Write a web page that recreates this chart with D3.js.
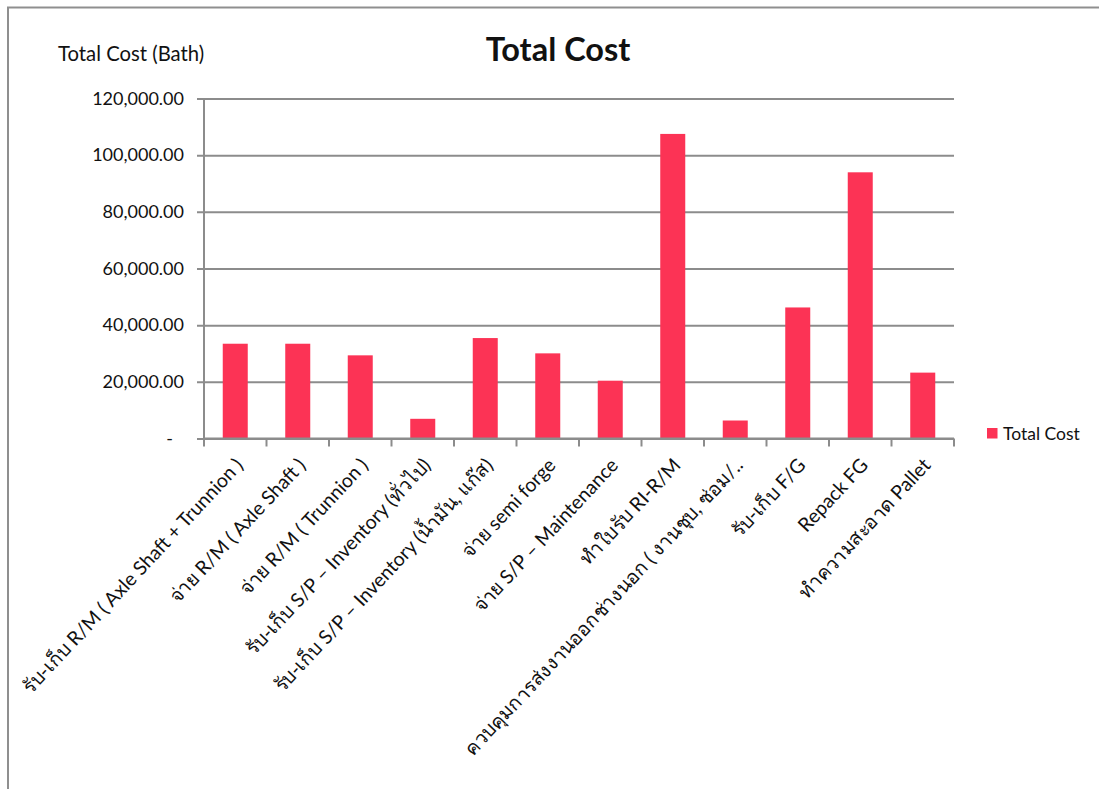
<!DOCTYPE html>
<html>
<head>
<meta charset="utf-8">
<script src="https://cdn.jsdelivr.net/npm/d3@7"></script>
<style>
  html, body { margin: 0; padding: 0; background: #ffffff; }
  svg { display: block; }
  text { font-family: Lato, "Open Sans", "Noto Sans", sans-serif; fill: #111; }
</style>
</head>
<body>
<svg id="chart" width="1099" height="789"></svg>
<script>
const categories = [
  "รับ-เก็บ R/M ( Axle Shaft + Trunnion )",
  "จ่าย R/M ( Axle Shaft )",
  "จ่าย R/M ( Trunnion )",
  "รับ-เก็บ S/P – Inventory (ทั่วไป)",
  "รับ-เก็บ S/P – Inventory (น้ำมัน, แก๊ส)",
  "จ่าย  semi forge",
  "จ่าย S/P – Maintenance",
  "ทำใบรับ  RI-R/M",
  "ควบคุมการส่งงานออกช่างนอก ( งานชุบ, ซ่อม/..",
  "รับ-เก็บ F/G",
  "Repack  FG",
  "ทำความสะอาด Pallet"
];
const totalCost = [33450, 33450, 29350, 6950, 35450, 30050, 20400, 107500, 6350, 46250, 93950, 23250];
const yTicks = [0, 20000, 40000, 60000, 80000, 100000, 120000];
const seriesName = "Total Cost";
const chartTitle = "Total Cost";
const yAxisTitle = "Total Cost (Bath)";

(function () {
const svg = d3.select("#chart");
const pL = 204, pR = 954, pT = 98.5, pB = 438.5;
const gridColor = "#8c8c8c";
const barColor = "#fc3355";

// outer chart frame (top and left edges visible)
svg.append("path")
  .attr("d", "M8,1000 L8,7.5 L1200,7.5")
  .attr("fill", "none").attr("stroke", "#8f8f8f").attr("stroke-width", 2);

const x = d3.scaleBand().domain(categories).range([pL, pR]).paddingInner(0.6).paddingOuter(0.3);
const xb = d3.scaleBand().domain(categories).range([pL, pR]);
const y = d3.scaleLinear().domain([0, 120000]).range([pB, pT]);

// gridlines + y axis
const yAxis = d3.axisLeft(y).tickValues(yTicks)
  .tickSize(-(pR - pL))
  .tickFormat(d => d === 0 ? "-" : d3.format(",.2f")(d));
const gy = svg.append("g").attr("transform", `translate(${pL},0)`).call(yAxis);
gy.select(".domain").remove();
gy.selectAll(".tick line").attr("stroke", gridColor).attr("stroke-width", 2).attr("x1", -7);
gy.selectAll(".tick text").attr("x", -20).attr("font-size", 18).attr("fill", "#111")
  .attr("font-family", "Lato, 'Open Sans', sans-serif");
gy.selectAll(".tick").filter(d => d === 0).select("text").attr("x", -31);

// bars
svg.append("g").selectAll("rect").data(totalCost).join("rect")
  .attr("x", (d, i) => x(categories[i]))
  .attr("width", x.bandwidth())
  .attr("y", d => y(d))
  .attr("height", d => y(0) - y(d))
  .attr("fill", barColor);

// vertical axis line
svg.append("line").attr("x1", pL).attr("x2", pL).attr("y1", pT).attr("y2", pB + 7)
  .attr("stroke", gridColor).attr("stroke-width", 2);

// category axis
const gx = svg.append("g").attr("transform", `translate(0,${pB})`);
gx.append("line").attr("x1", pL).attr("x2", pR).attr("stroke", gridColor).attr("stroke-width", 2);
const bounds = categories.map(c => xb(c)).concat([xb(categories[categories.length - 1]) + xb.bandwidth()]);
gx.selectAll("line.tk").data(bounds).join("line").attr("class", "tk")
  .attr("x1", d => d).attr("x2", d => d).attr("y1", 0).attr("y2", 8)
  .attr("stroke", gridColor).attr("stroke-width", 2);
gx.selectAll("text").data(categories).join("text")
  .attr("text-anchor", "end")
  .attr("font-size", 19.5)
  .attr("transform", d => `translate(${xb(d) + xb.bandwidth() / 2 + 4},${23}) rotate(-47)`)
  .attr("dy", "0.35em")
  .text(d => d);

// titles
svg.append("text").attr("x", 558).attr("y", 61).attr("text-anchor", "middle")
  .attr("font-size", 32.5).attr("font-weight", "bold").attr("fill", "#000").text(chartTitle);
svg.append("text").attr("x", 58).attr("y", 61).attr("font-size", 20.3).text(yAxisTitle);

// legend
const lg = svg.append("g").attr("transform", "translate(987,428)");
lg.append("rect").attr("width", 10.5).attr("height", 10.5).attr("fill", barColor);
lg.append("text").attr("x", 16).attr("y", 5.5).attr("dy", "0.35em").attr("font-size", 17.5).text(seriesName);
})();
</script>
</body>
</html>
